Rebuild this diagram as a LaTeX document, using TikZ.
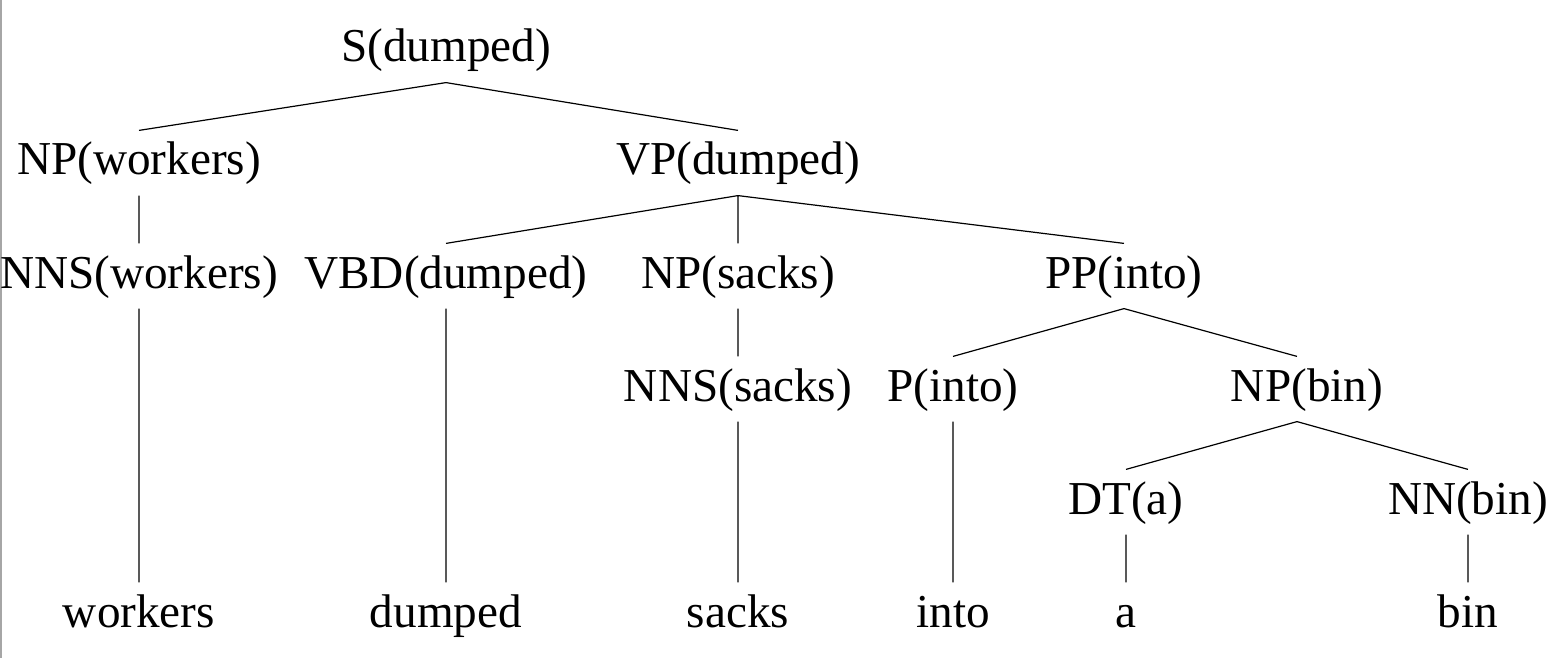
\documentclass[tikz,border=0pt]{standalone}
\usepackage{fontspec}
\setmainfont{Liberation Serif}
\usetikzlibrary{positioning}

\begin{document}
\begin{tikzpicture}[x=0.5pt,y=-0.5pt,line width=0.6pt,
  every node/.style={inner sep=0pt,anchor=base,text height=22pt,text depth=10pt,
    font=\fontsize{23.6}{28}\selectfont}]
  \useasboundingbox (0,0) rectangle (1554,658);
  \draw[gray!70,line width=1pt] (1,0) -- (1,658);
  % nonterminals
  \node (s)     at (446,62)  {S(dumped)};
  \node (npw)   at (139,175) {NP(workers)};
  \node (vp)    at (738,175) {VP(dumped)};
  \node (nnsw)  at (139,288) {NNS(workers)};
  \node (vbd)   at (446,288) {VBD(dumped)};
  \node (nps)   at (738,288) {NP(sacks)};
  \node (pp)    at (1124,288) {PP(into)};
  \node (nnss)  at (738,401) {NNS(sacks)};
  \node (p)     at (953,401) {P(into)};
  \node (npb)   at (1307,401) {NP(bin)};
  \node (dt)    at (1126,514) {DT(a)};
  \node (nn)    at (1468,514) {NN(bin)};
  % words
  \node (w_1) at (139,627)  {workers};
  \node (w_2) at (446,627)  {dumped};
  \node (w_3) at (738,627)  {sacks};
  \node (w_4) at (953,627)  {into};
  \node (w_5) at (1126,627) {a};
  \node (w_6) at (1468,627) {bin};
  \draw
    (s.south) -- (npw.north)
    (s.south) -- (vp.north)
    (npw.south) -- (nnsw.north)
    (vp.south) -- (vbd.north)
    (vp.south) -- (nps.north)
    (vp.south) -- (pp.north)
    (nps.south) -- (nnss.north)
    (pp.south) -- (p.north)
    (pp.south) -- ([xshift=-5pt]npb.north)
    ([xshift=-5pt]npb.south) -- (dt.north)
    ([xshift=-5pt]npb.south) -- (nn.north)
    (nnsw.south) -- (w_1.north)
    (vbd.south) -- (w_2.north)
    (nnss.south) -- (w_3.north)
    (p.south) -- (w_4.north)
    (dt.south) -- (w_5.north)
    (nn.south) -- (w_6.north);
\end{tikzpicture}
\end{document}
